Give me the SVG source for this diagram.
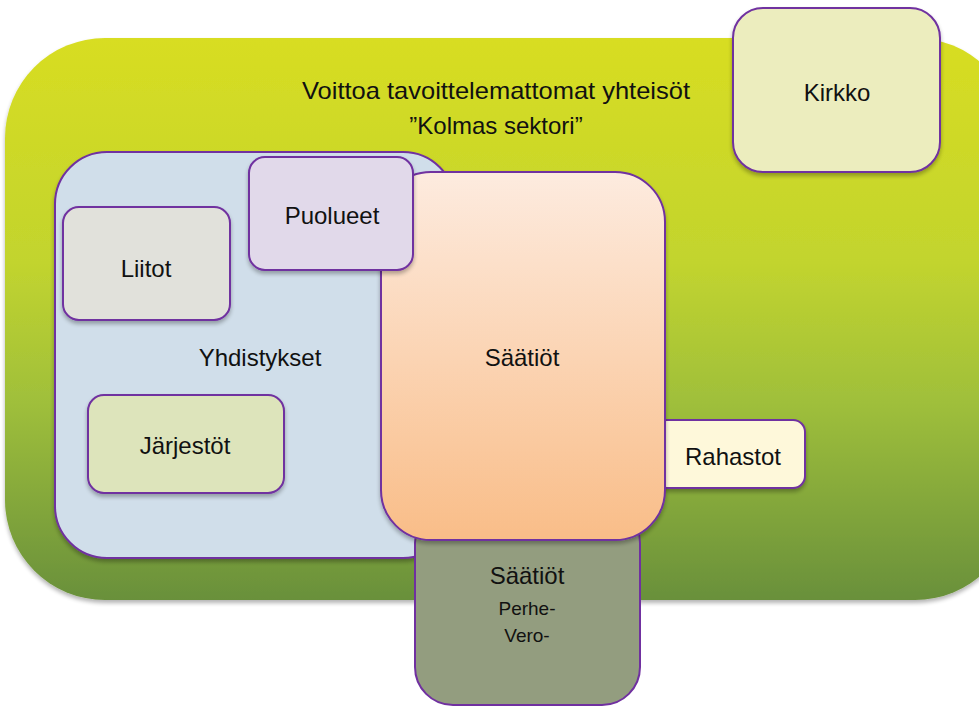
<svg xmlns="http://www.w3.org/2000/svg" width="979" height="707" viewBox="0 0 979 707">
<defs>
<linearGradient id="gGreen" x1="0" y1="0" x2="0" y2="1">
<stop offset="0" stop-color="#d8dd22"/>
<stop offset="0.4" stop-color="#c2d42e"/>
<stop offset="0.65" stop-color="#9fbf3b"/>
<stop offset="1" stop-color="#69903a"/>
</linearGradient>
<linearGradient id="gOrange" x1="0" y1="0" x2="0" y2="1">
<stop offset="0" stop-color="#fdebdf"/>
<stop offset="1" stop-color="#f9bd88"/>
</linearGradient>
<filter id="sh" x="-10%" y="-10%" width="120%" height="125%">
<feGaussianBlur in="SourceAlpha" stdDeviation="2"/>
<feOffset dx="0" dy="3" result="b"/>
<feComponentTransfer><feFuncA type="linear" slope="0.3"/></feComponentTransfer>
<feMerge><feMergeNode/><feMergeNode in="SourceGraphic"/></feMerge>
</filter>
</defs>
<style>
.box{stroke:#7030a0;stroke-width:2}
text{font-family:"Liberation Sans","Noto Sans",Arial,sans-serif;fill:#111;text-anchor:middle;font-size:24px}
.sm{font-size:19px}
</style>
<rect width="979" height="707" fill="#ffffff"/>
<g id="sector">
<rect x="5" y="38" width="1010" height="562" rx="100" ry="100" fill="url(#gGreen)" filter="url(#sh)"/>
<text x="496" y="99" textLength="388" lengthAdjust="spacingAndGlyphs">Voittoa tavoittelemattomat yhteisöt</text>
<text x="496" y="134">”Kolmas sektori”</text>
</g>
<g id="kirkko">
<rect class="box" x="733" y="8" width="207" height="164" rx="30" fill="#ecedbe" filter="url(#sh)"/>
<text x="837" y="101">Kirkko</text>
</g>
<g id="yhdistykset">
<rect class="box" x="55" y="152" width="400" height="406" rx="52" fill="#d0deea" filter="url(#sh)"/>
<text x="260" y="366">Yhdistykset</text>
</g>
<g id="liitot">
<rect class="box" x="63" y="207" width="167" height="113" rx="16" fill="#e1e1db" filter="url(#sh)"/>
<text x="146" y="277">Liitot</text>
</g>
<g id="jarjestot">
<rect class="box" x="88" y="395" width="196" height="98" rx="16" fill="#dde4bb" filter="url(#sh)"/>
<text x="185" y="454">Järjestöt</text>
</g>
<g id="saatiot-perhe-vero">
<rect class="box" x="415" y="505" width="225" height="200" rx="38" fill="#939d7f"/>
<text x="527" y="584">Säätiöt</text>
<text class="sm" x="527" y="615">Perhe-</text>
<text class="sm" x="527" y="642">Vero-</text>
</g>
<g id="rahastot">
<rect class="box" x="655" y="420" width="150" height="68" rx="12" fill="#fef8da" filter="url(#sh)"/>
<text x="733" y="465">Rahastot</text>
</g>
<g id="saatiot">
<rect class="box" x="381" y="172" width="284" height="368" rx="50" fill="url(#gOrange)" filter="url(#sh)"/>
<text x="522" y="366">Säätiöt</text>
</g>
<g id="puolueet">
<rect class="box" x="249" y="157" width="164" height="113" rx="16" fill="#e1d9ea" filter="url(#sh)"/>
<text x="332" y="224">Puolueet</text>
</g>
<g id="connectors"/>
</svg>
